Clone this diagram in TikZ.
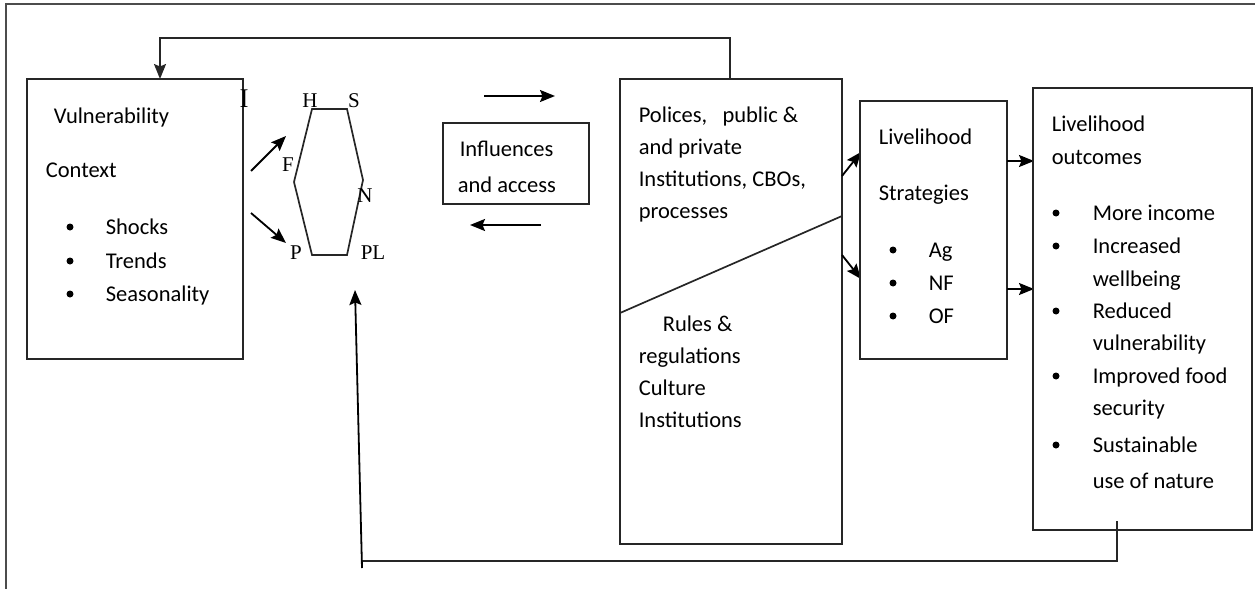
\documentclass[tikz,border=0pt]{standalone}
\usepackage{fontspec}
\setmainfont{Carlito}
\newfontfamily\serifletters{Liberation Serif}
\usetikzlibrary{arrows.meta}
\begin{document}
\begin{tikzpicture}[x=1pt,y=-1pt,
  line width=1.6pt,
  box/.style={draw=black!85, line width=1.7pt},
  txt/.style={anchor=base west, inner sep=0pt, font=\fontsize{22.5}{25}\selectfont, text=black},
  ltr/.style={anchor=base, inner sep=0pt, font=\serifletters\fontsize{21}{24}\selectfont},
  dot/.style={circle, fill=black, inner sep=0pt, minimum size=7pt},
  arr/.style={-{Stealth[length=15pt,width=12pt,inset=2.5pt]}, line width=1.8pt},
  ln/.style={line width=1.7pt, draw=black!85}]
\useasboundingbox (0,0) rectangle (1255,589);
% outer frame
\coordinate (fTR) at (1255,4);
\coordinate (fTL) at (6,4);
\coordinate (fBL) at (6,589);
\draw[ln, draw=black!70] (fTR) -- (fTL) -- (fBL);

% Vulnerability box
\draw[box] (27,79) rectangle (243,359);
\coordinate (vulnTop) at (160,79);
\node[txt] (v1) at (53,123) {Vulnerability};
\node[txt] (v2) at (45,177) {Context};
\node[dot] (vb1) at (70,227) {};
\node[dot] (vb2) at (70,261) {};
\node[dot] (vb3) at (70,294) {};
\node[txt] (v3) at (105,234) {Shocks};
\node[txt] (v4) at (105,268) {Trends};
\node[txt] (v5) at (105,301) {Seasonality};
\node[anchor=base, inner sep=0pt, font=\serifletters\fontsize{27}{30}\selectfont] (Imark) at (244,107) {I};

% arrows to hexagon
\coordinate (a1s) at (251,171); \coordinate (a1e) at (286,136);
\coordinate (a2s) at (251,213); \coordinate (a2e) at (286,243);
\draw[arr] (a1s) -- (a1e);
\draw[arr] (a2s) -- (a2e);

% hexagon
\coordinate (h1) at (312,109); \coordinate (h2) at (347,109);
\coordinate (h3) at (363,180); \coordinate (h4) at (347,255);
\coordinate (h5) at (312,255); \coordinate (h6) at (294,182);
\draw[ln] (h1) -- (h2) -- (h3) -- (h4) -- (h5) -- (h6) -- cycle;
\node[ltr] (lH) at (310,107) {H};
\node[ltr] (lS) at (354,107) {S};
\node[ltr] (lF) at (288,171) {F};
\node[ltr] (lN) at (365,202) {N};
\node[ltr] (lP) at (296,259) {P};
\node[ltr] (lPL) at (373,259) {PL};

% influences
\coordinate (r1s) at (484,96); \coordinate (r1e) at (555,96);
\draw[arr] (r1s) -- (r1e);
\draw[box] (443,123) rectangle (589,204);
\node[txt] (i1) at (459,156) {Influences};
\node[txt] (i2) at (457,192) {and access};
\coordinate (l1s) at (541,225); \coordinate (l1e) at (470,225);
\draw[arr] (l1s) -- (l1e);

% policies box
\draw[box] (620,79) rectangle (842,544);
\coordinate (dA) at (620,313); \coordinate (dB) at (842,216);
\draw[ln] (dA) -- (dB);
\node[txt] (p1) at (638,122) {Polices,\ \ \ public \&};
\node[txt] (p2) at (638,154) {and private};
\node[txt] (p3) at (638,186) {Institutions, CBOs,};
\node[txt] (p4) at (638,218) {processes};
\node[txt] (p5) at (662,331) {Rules \&};
\node[txt] (p6) at (638,363) {regulations};
\node[txt] (p7) at (638,395) {Culture};
\node[txt] (p8) at (638,427) {Institutions};
\coordinate (polTop) at (730,79);
\coordinate (tR) at (730,38); \coordinate (tL) at (160,38);
\draw[ln, arr] (polTop) -- (tR) -- (tL) -- (vulnTop);

% arrows to strategies
\coordinate (s1s) at (842,176); \coordinate (s1e) at (861,152);
\coordinate (s2s) at (842,255); \coordinate (s2e) at (861,279);
\draw[arr] (s1s) -- (s1e);
\draw[arr] (s2s) -- (s2e);

% strategies box
\draw[box] (860,101) rectangle (1007,359);
\node[txt] (st1) at (878,144) {Livelihood};
\node[txt] (st2) at (878,200) {Strategies};
\node[dot] (sb1) at (893,250) {};
\node[dot] (sb2) at (893,283) {};
\node[dot] (sb3) at (893,316) {};
\node[txt] (st3) at (928,257) {Ag};
\node[txt] (st4) at (928,290) {NF};
\node[txt] (st5) at (928,323) {OF};

% arrows to outcomes
\coordinate (o1s) at (1007,161); \coordinate (o1e) at (1034,161);
\coordinate (o2s) at (1007,289); \coordinate (o2e) at (1034,289);
\draw[arr] (o1s) -- (o1e);
\draw[arr] (o2s) -- (o2e);

% outcomes box
\draw[box] (1033,88) rectangle (1252,530);
\node[txt] (oc1) at (1051,131) {Livelihood};
\node[txt] (oc2) at (1051,164) {outcomes};
\node[dot] (ob1) at (1056,213) {};
\node[dot] (ob2) at (1056,246) {};
\node[dot] (ob3) at (1056,311) {};
\node[dot] (ob4) at (1056,376) {};
\node[dot] (ob5) at (1056,445) {};
\node[txt] (oc3) at (1092,220) {More income};
\node[txt] (oc4) at (1092,253) {Increased};
\node[txt] (oc5) at (1092,286) {wellbeing};
\node[txt] (oc6) at (1092,318) {Reduced};
\node[txt] (oc7) at (1092,350) {vulnerability};
\node[txt] (oc8) at (1092,383) {Improved food};
\node[txt] (oc9) at (1092,415) {security};
\node[txt] (oc10) at (1092,452) {Sustainable};
\node[txt] (oc11) at (1092,488) {use of nature};

% bottom feedback
\coordinate (bS) at (1117,521); \coordinate (bR) at (1117,561);
\coordinate (bL) at (362,561); \coordinate (bLow) at (362,568);
\coordinate (bTip) at (355,290);
\draw[ln] (bS) -- (bR) -- (bL);
\draw[arr] (bLow) -- (bTip);
\end{tikzpicture}
\end{document}
